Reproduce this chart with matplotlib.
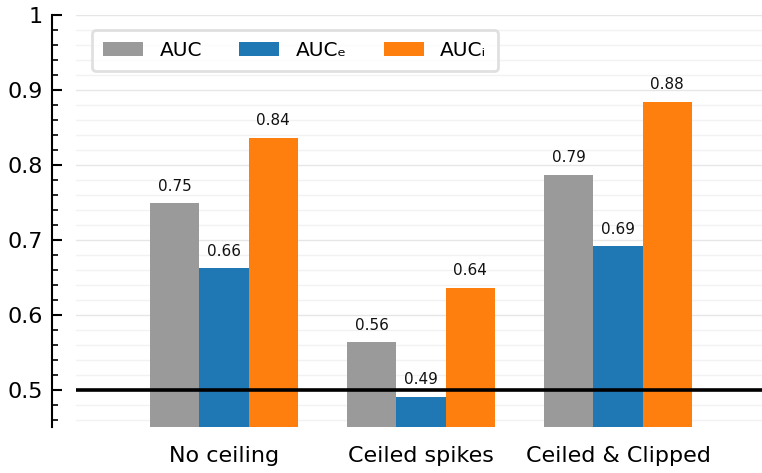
import matplotlib
matplotlib.use("Agg")
import matplotlib.pyplot as plt
import numpy as np
from matplotlib.ticker import MultipleLocator, FuncFormatter

categories = ["No ceiling", "Ceiled spikes", "Ceiled & Clipped"]
series_names = ["AUC", "AUCₑ", "AUCᵢ"]
auc = [0.7487, 0.5630, 0.7870]
auc_e = [0.6618, 0.4906, 0.6910]
auc_i = [0.8356, 0.6360, 0.8840]
colors = ["#9a9a9a", "#1f77b4", "#ff7f0e"]

fig = plt.figure(figsize=(7.62, 4.73), dpi=100)
ax = fig.add_axes([76 / 762, 1 - 427 / 473, 686 / 762, 412 / 473])

x = np.arange(len(categories))
width = 0.25
for k, (vals, name, c) in enumerate(zip([auc, auc_e, auc_i], series_names, colors)):
    pos = x + (k - 1) * width
    ax.bar(pos, vals, width=width, bottom=0, color=c, label=name, zorder=2)
    for xp, v in zip(pos, vals):
        ax.annotate(f"{v:.2f}", (xp, v), xytext=(0, 7), textcoords="offset points",
                    ha="center", va="bottom", fontsize=11, color="#111111", zorder=4)

ax.axhline(0.5, color="black", lw=2.6, zorder=3)

ax.set_ylim(0.45, 1.0)
ax.set_xlim(-0.751, 2.731)
ax.yaxis.set_major_locator(MultipleLocator(0.1))
ax.yaxis.set_minor_locator(MultipleLocator(0.02))
ax.yaxis.set_major_formatter(FuncFormatter(lambda v, p: f"{v:g}"))
ax.grid(axis="y", which="major", color="#e6e6e6", lw=1.0, zorder=0)
ax.grid(axis="y", which="minor", color="#f2f2f2", lw=1.0, zorder=0)
ax.set_axisbelow(True)

for s in ["top", "right", "bottom"]:
    ax.spines[s].set_visible(False)
ax.spines["left"].set_position(("outward", 17))
ax.spines["left"].set_linewidth(1.5)
ax.tick_params(axis="y", which="major", direction="in", length=7, width=1.5,
               labelsize=16, pad=7)
ax.tick_params(axis="y", which="minor", direction="in", length=4.5, width=1.2)
ax.set_xticks(x)
ax.set_xticklabels(categories)
ax.tick_params(axis="x", length=0, labelsize=16, pad=14)

leg = ax.legend(loc="upper left", bbox_to_anchor=(0.0233, 0.9636), borderaxespad=0,
                ncol=3, fontsize=14.5, handlelength=2.0, handleheight=0.7,
                columnspacing=1.85, handletextpad=0.8, frameon=True, fancybox=True,
                borderpad=0.55)
leg.get_frame().set_edgecolor("#d9d9d9")
leg.get_frame().set_linewidth(2)

fig.savefig("out.png", dpi=100)
